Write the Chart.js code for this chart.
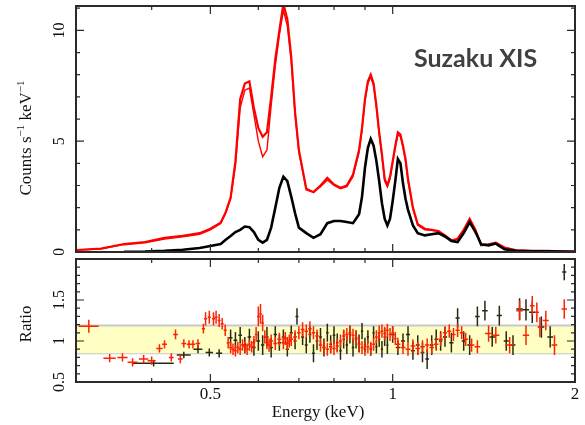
<!DOCTYPE html>
<html>
<head>
<meta charset="utf-8">
<script src="https://cdn.jsdelivr.net/npm/chart.js@4/dist/chart.umd.min.js"></script>
<style>
  body { margin: 0; background: #fff; width: 585px; height: 425px; position: relative; overflow: hidden; }
  canvas { position: absolute; left: 0; }
  #spec { top: 0; }
  #ratio { top: 255px; }
</style>
</head>
<body>
<canvas id="spec" width="585" height="255" style="width:585px;height:255px"></canvas>
<canvas id="ratio" width="585" height="170" style="width:585px;height:170px"></canvas>
<script>
// spectrum bins (keV) and count rates
const energy = [0.30,0.33,0.36,0.39,0.42,0.45,0.48,0.50,0.52,0.53,
                0.54,0.55,0.56,0.57,0.58,0.59,0.60,0.61,0.62,0.63,
                0.64,0.65,0.66,0.67,0.68,0.69,0.70,0.72,0.74,0.76,
                0.78,0.80,0.82,0.84,0.86,0.88,0.89,0.90,0.91,0.92,
                0.93,0.94,0.95,0.96,0.97,0.98,0.99,1.00,1.01,1.02,
                1.03,1.04,1.05,1.06,1.08,1.10,1.13,1.16,1.19,1.22,
                1.25,1.28,1.31,1.34,1.37,1.40,1.44,1.48,1.53,1.60,
                1.70,1.80,1.90,2.00];
const xisRed = [0.09,0.15,0.36,0.45,0.64,0.73,0.85,1.05,1.32,1.8,
                2.45,4.1,6.9,7.6,7.7,6.5,5.6,5.2,5.4,7.0,
                8.7,10.0,11.2,10.5,8.8,6.3,4.6,2.85,2.7,3.0,
                3.35,3.05,2.9,3.0,3.5,4.6,5.6,6.9,7.7,8.0,
                7.6,6.6,5.4,4.4,3.3,3.0,3.4,4.1,4.8,5.4,
                5.3,4.8,4.2,3.3,2.0,1.25,1.05,1.0,0.95,0.75,
                0.52,0.6,1.0,1.5,1.0,0.3,0.35,0.42,0.2,0.08,
                0.05,0.05,0.03,0.02];
const xisRedModel = [0.08,0.14,0.33,0.42,0.58,0.68,0.8,1.0,1.28,1.75,
                2.4,3.9,6.5,7.3,7.4,6.2,5.0,4.3,4.6,6.6,
                8.4,9.8,10.9,10.2,8.6,6.2,4.5,2.8,2.7,2.95,
                3.25,3.0,2.85,2.95,3.4,4.5,5.5,6.8,7.6,7.9,
                7.5,6.5,5.3,4.3,3.2,2.95,3.3,4.0,4.7,5.3,
                5.2,4.7,4.1,3.2,1.95,1.2,1.0,0.98,0.92,0.72,
                0.5,0.58,0.98,1.45,0.95,0.3,0.34,0.4,0.19,0.08,
                0.05,0.04,0.03,0.02];
const xisBlack = [null,null,0.01,0.02,0.05,0.1,0.18,0.27,0.36,0.55,
                0.72,0.9,1.0,1.15,1.12,0.9,0.55,0.42,0.55,1.1,
                2.0,2.9,3.4,3.2,2.5,1.75,1.1,0.85,0.64,0.8,
                1.3,1.4,1.4,1.35,1.3,1.7,2.5,3.8,4.7,5.1,
                4.8,4.1,3.2,2.2,1.5,1.2,1.5,2.3,3.2,4.2,
                4.0,3.1,2.4,1.9,1.2,0.85,0.75,0.8,0.85,0.7,
                0.5,0.45,0.85,1.35,0.9,0.35,0.3,0.38,0.12,0.05,
                0.03,0.03,0.02,0.01];

// data/model ratio, red (XIS1) points
const redRatioE = [0.315,0.341,0.358,0.372,0.388,0.400,0.412,0.420,0.431,0.438,
                   0.446,0.452,0.461,0.468,0.477,0.487,0.491,0.498,0.506,0.511,
                   0.517,0.523,0.529,0.535,0.540,0.545,0.550,0.555,0.560,0.565,
                   0.570,0.575,0.580,0.585,0.590,0.595,0.600,0.605,0.610,0.615,
                   0.620,0.625,0.630,0.640,0.650,0.660,0.665,0.670,0.675,0.680,
                   0.69,0.70,0.71,0.72,0.73,0.74,0.75,0.76,0.77,0.78,
                   0.79,0.80,0.81,0.82,0.83,0.84,0.85,0.86,0.87,0.88,
                   0.89,0.90,0.91,0.92,0.93,0.94,0.95,0.96,0.97,0.98,
                   0.99,1.00,1.01,1.02,1.04,1.06,1.08,1.10,1.12,1.14,
                   1.16,1.18,1.20,1.22,1.24,1.26,1.28,1.30,1.32,1.35,
                   1.38,1.44,1.48,1.56,1.62,1.66,1.70,1.73,1.75,1.79,
                   1.85,1.92];
const redRatioV = [1.18,0.79,0.80,0.74,0.78,0.76,0.91,0.96,0.80,1.08,
                   0.78,0.97,0.96,0.96,0.97,1.15,1.27,1.29,1.27,1.29,
                   1.25,1.21,1.13,0.98,0.92,0.90,0.88,0.92,0.90,0.95,
                   0.93,0.90,0.95,0.93,0.98,1.08,1.30,1.33,1.22,1.05,
                   0.98,0.95,1.00,0.97,1.02,0.98,1.03,0.97,1.00,1.02,
                   1.05,1.10,1.14,1.12,1.15,1.10,1.06,0.95,0.92,0.90,
                   0.93,0.91,0.94,1.00,1.06,1.08,1.10,1.07,1.04,0.96,
                   0.92,0.90,0.93,0.91,0.96,1.05,1.10,1.12,1.09,1.13,
                   1.08,1.10,1.03,0.96,0.92,0.90,0.94,0.91,0.93,0.95,
                   0.92,0.96,1.02,1.10,1.12,1.08,1.13,1.10,1.02,0.95,
                   0.93,1.09,1.07,0.95,1.37,1.07,1.43,1.35,1.17,1.25,
                   0.95,1.39];
const redRatioDx = [0.012,0.008,0.007,0.007,0.007,0.006,0.005,0.004,0.004,0.004,
                    0.004,0.004,0.004,0.004,0.004,0.003,0.003,0.003,0.003,0.003,
                    0.003,0.003,0.003,0.003,0.003,0.003,0.003,0.003,0.003,0.003,
                    0.003,0.003,0.003,0.003,0.003,0.003,0.003,0.003,0.003,0.003,
                    0.003,0.003,0.005,0.005,0.005,0.005,0.004,0.004,0.004,0.005,
                    0.005,0.005,0.005,0.005,0.005,0.005,0.005,0.005,0.005,0.005,
                    0.005,0.005,0.005,0.005,0.005,0.005,0.005,0.005,0.005,0.005,
                    0.005,0.005,0.005,0.005,0.005,0.005,0.005,0.005,0.005,0.005,
                    0.005,0.005,0.005,0.01,0.01,0.01,0.01,0.01,0.01,0.01,
                    0.01,0.01,0.01,0.01,0.01,0.01,0.01,0.01,0.012,0.014,
                    0.015,0.02,0.02,0.025,0.02,0.02,0.015,0.015,0.015,0.02,
                    0.02,0.02];
const redRatioErr = [0.08,0.05,0.05,0.05,0.05,0.05,0.05,0.05,0.05,0.06,
                     0.05,0.05,0.05,0.05,0.05,0.06,0.08,0.08,0.08,0.08,
                     0.08,0.07,0.07,0.07,0.07,0.07,0.07,0.07,0.07,0.07,
                     0.07,0.07,0.07,0.07,0.08,0.09,0.12,0.12,0.10,0.08,
                     0.08,0.08,0.08,0.08,0.08,0.08,0.08,0.08,0.08,0.08,
                     0.08,0.08,0.09,0.08,0.09,0.08,0.08,0.08,0.08,0.08,
                     0.08,0.08,0.08,0.08,0.08,0.08,0.08,0.08,0.08,0.08,
                     0.08,0.08,0.08,0.08,0.08,0.08,0.09,0.08,0.08,0.08,
                     0.08,0.08,0.08,0.08,0.08,0.08,0.08,0.08,0.08,0.08,
                     0.08,0.08,0.08,0.08,0.08,0.08,0.08,0.08,0.08,0.08,
                     0.08,0.10,0.10,0.10,0.12,0.12,0.12,0.12,0.12,0.12,
                     0.12,0.12];

// data/model ratio, black (XIS0+3) points
const blackRatioE = [0.403,0.452,0.477,0.498,0.517,0.540,0.550,0.560,0.570,0.580,
                     0.59,0.60,0.61,0.62,0.63,0.64,0.65,0.66,0.67,0.68,
                     0.69,0.695,0.71,0.72,0.73,0.74,0.75,0.76,0.77,0.78,
                     0.79,0.80,0.81,0.82,0.83,0.84,0.85,0.86,0.87,0.88,
                     0.89,0.90,0.91,0.92,0.93,0.94,0.95,0.96,0.97,0.98,
                     1.00,1.02,1.04,1.06,1.08,1.10,1.12,1.14,1.16,1.18,
                     1.20,1.22,1.25,1.28,1.31,1.34,1.38,1.42,1.46,1.50,
                     1.54,1.58,1.62,1.66,1.70,1.76,1.82,1.92];
const blackRatioV = [0.73,0.83,0.90,0.86,0.85,1.04,1.01,1.07,0.95,1.05,
                     0.92,1.00,0.95,1.05,0.92,1.08,0.98,1.05,0.90,1.10,
                     1.00,1.30,1.05,0.95,1.08,0.85,1.00,1.05,0.92,1.10,
                     0.96,1.07,0.98,0.88,1.02,0.95,1.08,0.92,1.02,0.97,
                     1.12,0.95,1.05,0.90,1.10,0.93,1.02,0.90,1.05,0.95,
                     1.08,0.92,1.00,1.08,0.88,0.95,0.86,0.78,0.95,1.02,
                     1.00,1.05,0.98,1.28,1.00,0.95,1.30,1.37,1.05,1.31,
                     1.00,0.95,1.39,1.38,1.35,1.17,1.05,1.84];
const blackRatioDx = [0.032,0.012,0.008,0.007,0.006,0.004,0.004,0.004,0.004,0.004,
                      0.004,0.004,0.004,0.004,0.004,0.004,0.004,0.004,0.004,0.004,
                      0.004,0.004,0.004,0.004,0.004,0.004,0.004,0.004,0.004,0.004,
                      0.004,0.004,0.004,0.004,0.004,0.004,0.004,0.004,0.004,0.004,
                      0.004,0.004,0.004,0.004,0.004,0.004,0.004,0.004,0.004,0.004,
                      0.008,0.008,0.008,0.008,0.008,0.008,0.008,0.008,0.008,0.008,
                      0.008,0.01,0.01,0.01,0.01,0.012,0.012,0.015,0.015,0.015,
                      0.015,0.015,0.02,0.02,0.02,0.02,0.02,0.015];
const blackRatioErr = [0.04,0.04,0.05,0.05,0.05,0.10,0.10,0.10,0.10,0.10,
                       0.10,0.12,0.12,0.12,0.12,0.10,0.10,0.09,0.09,0.09,
                       0.10,0.10,0.10,0.10,0.10,0.11,0.11,0.11,0.11,0.11,
                       0.11,0.11,0.11,0.11,0.11,0.11,0.11,0.11,0.11,0.11,
                       0.10,0.09,0.08,0.08,0.08,0.08,0.09,0.10,0.11,0.11,
                       0.10,0.09,0.09,0.10,0.11,0.12,0.12,0.12,0.12,0.12,
                       0.12,0.12,0.12,0.12,0.12,0.12,0.12,0.12,0.12,0.12,
                       0.12,0.12,0.13,0.13,0.13,0.13,0.13,0.10];

const xMajor = [0.5, 1, 2];
const xMinor = [0.4, 0.6, 0.7, 0.8, 0.9];
const xTickLabels = ['0.5', '1', '2'];
const bandLo = 0.85, bandHi = 1.19;

const serif = '"Liberation Serif", "Times New Roman", serif';

const pts = (xs, ys) => xs.map((x, i) => ({x: x, y: ys[i]}));
const errPts = (xs, ys, dx, dy) => xs.map((x, i) => ({
  x: x, y: ys[i], xMin: x - dx[i], xMax: x + dx[i], yMin: ys[i] - dy[i], yMax: ys[i] + dy[i]
}));

// text with superscripts, rotated to read bottom-up
function richText(ctx, parts, cx, cy, size) {
  ctx.save();
  ctx.translate(cx, cy);
  ctx.rotate(-Math.PI / 2);
  const fonts = parts.map(p => (p[1] ? Math.round(size * 0.62) : size) + 'px ' + serif);
  let w = 0;
  const ws = parts.map((p, i) => { ctx.font = fonts[i]; const m = ctx.measureText(p[0]).width; w += m; return m; });
  let xx = -w / 2;
  ctx.textAlign = 'left';
  ctx.textBaseline = 'alphabetic';
  parts.forEach((p, i) => {
    ctx.font = fonts[i];
    ctx.fillText(p[0], xx, p[1] ? -size * 0.05 : size * 0.33);
    xx += ws[i];
  });
  ctx.restore();
}

const frame = {
  id: 'frame',
  afterDraw(chart, args, o) {
    const {ctx, chartArea: a, scales: {x, y}} = chart;
    ctx.save();
    ctx.strokeStyle = '#2a2a2a';
    ctx.lineWidth = 1.2;
    ctx.beginPath();
    const seg = (x1, y1, x2, y2) => { ctx.moveTo(x1, y1); ctx.lineTo(x2, y2); };
    const xt = (v, len) => { const p = x.getPixelForValue(v); seg(p, a.top, p, a.top + len); seg(p, a.bottom, p, a.bottom - len); };
    const yt = (v, len) => { const p = y.getPixelForValue(v); seg(a.left, p, a.left + len, p); seg(a.right, p, a.right - len, p); };
    xMajor.forEach(v => xt(v, 8));
    xMinor.forEach(v => xt(v, 4));
    o.yMajor.forEach(v => yt(v, 8));
    o.yMinor.forEach(v => yt(v, 4));
    ctx.stroke();
    ctx.lineWidth = 2;
    ctx.strokeRect(a.left, a.top, a.right - a.left, a.bottom - a.top);

    ctx.fillStyle = '#111';
    ctx.textAlign = 'center';
    ctx.textBaseline = 'middle';
    ctx.font = '16px ' + serif;
    o.yLabels.forEach(l => {
      ctx.save();
      ctx.translate(a.left - 16, y.getPixelForValue(l[0]));
      ctx.rotate(-Math.PI / 2);
      ctx.fillText(l[1], 0, 0);
      ctx.restore();
    });
    richText(ctx, o.yTitle, a.left - 51, o.yTitleY, 17);
    if (o.xTitle) {
      ctx.font = '17px ' + serif;
      xMajor.forEach((v, i) => ctx.fillText(xTickLabels[i], x.getPixelForValue(v), a.bottom + 13));
      ctx.fillText(o.xTitle, 318, a.bottom + 31);
    }
    if (o.tag) {
      ctx.font = 'bold 25px Lato, "Open Sans", sans-serif';
      ctx.fillStyle = '#404040';
      ctx.textAlign = 'left';
      ctx.textBaseline = 'alphabetic';
      ctx.fillText(o.tag, 414, 67);
    }
    ctx.restore();
  }
};

const errorBars = {
  id: 'errorBars',
  afterDatasetsDraw(chart) {
    const {ctx, chartArea: a, scales: {x, y}} = chart;
    ctx.save();
    ctx.beginPath();
    ctx.rect(a.left, a.top, a.right - a.left, a.bottom - a.top);
    ctx.clip();
    chart.data.datasets.forEach(ds => {
      if (!ds.errorBars) return;
      ctx.strokeStyle = ds.borderColor;
      ctx.lineWidth = 1.5;
      ctx.beginPath();
      ds.data.forEach(p => {
        const px = x.getPixelForValue(p.x), py = y.getPixelForValue(p.y);
        ctx.moveTo(x.getPixelForValue(p.xMin), py);
        ctx.lineTo(x.getPixelForValue(p.xMax), py);
        ctx.moveTo(px, y.getPixelForValue(p.yMin));
        ctx.lineTo(px, y.getPixelForValue(p.yMax));
      });
      ctx.stroke();
    });
    ctx.restore();
  }
};

const xScale = {type: 'logarithmic', min: 0.3, max: 2, display: false};

new Chart(document.getElementById('spec'), {
  type: 'line',
  data: {
    datasets: [
      {data: pts(energy, xisBlack), borderColor: '#000', borderWidth: 2.6, pointRadius: 0, spanGaps: false},
      {data: pts(energy, xisRedModel), borderColor: '#ff0000', borderWidth: 1.4, pointRadius: 0},
      {data: pts(energy, xisRed), borderColor: '#ff0000', borderWidth: 2.2, pointRadius: 0}
    ]
  },
  options: {
    responsive: false,
    animation: false,
    devicePixelRatio: 1,
    layout: {padding: {left: 76, right: 10, top: 6, bottom: 3}},
    plugins: {
      legend: {display: false},
      tooltip: {enabled: false},
      frame: {
        yMajor: [0, 5, 10],
        yMinor: [1, 2, 3, 4, 6, 7, 8, 9, 11],
        yLabels: [[0, '0'], [5, '5'], [10, '10']],
        yTitle: [['Counts s', 0], ['\u22121', 1], [' keV', 0], ['\u22121', 1]],
        yTitleY: 138,
        tag: 'Suzaku XIS'
      }
    },
    scales: {x: xScale, y: {min: 0, max: 11.1, display: false}}
  },
  plugins: [frame]
});

new Chart(document.getElementById('ratio'), {
  type: 'line',
  data: {
    datasets: [
      {data: pts([0.3, 2], [bandHi, bandHi]), borderColor: '#c8c8c8', borderWidth: 2, backgroundColor: '#ffffc4', fill: '+1', pointRadius: 0},
      {data: pts([0.3, 2], [bandLo, bandLo]), borderColor: '#c8c8c8', borderWidth: 2, fill: false, pointRadius: 0},
      {data: pts([0.3, 2], [1, 1]), borderColor: '#4a4a14', borderWidth: 1.5, fill: false, pointRadius: 0},
      {data: errPts(blackRatioE, blackRatioV, blackRatioDx, blackRatioErr), borderColor: '#2a2a10', showLine: false, pointRadius: 0, errorBars: true},
      {data: errPts(redRatioE, redRatioV, redRatioDx, redRatioErr), borderColor: '#ff2200', showLine: false, pointRadius: 0, errorBars: true}
    ]
  },
  options: {
    responsive: false,
    animation: false,
    devicePixelRatio: 1,
    layout: {padding: {left: 76, right: 10, top: 4, bottom: 43}},
    plugins: {
      legend: {display: false},
      tooltip: {enabled: false},
      frame: {
        yMajor: [0.5, 1, 1.5],
        yMinor: [0.6, 0.7, 0.8, 0.9, 1.1, 1.2, 1.3, 1.4, 1.6, 1.7, 1.8, 1.9],
        yLabels: [[0.5, '0.5'], [1, '1'], [1.5, '1.5']],
        yTitle: [['Ratio', 0]],
        yTitleY: 69,
        xTitle: 'Energy (keV)'
      }
    },
    scales: {x: xScale, y: {min: 0.5, max: 2, display: false}}
  },
  plugins: [frame, errorBars]
});
</script>
</body>
</html>
